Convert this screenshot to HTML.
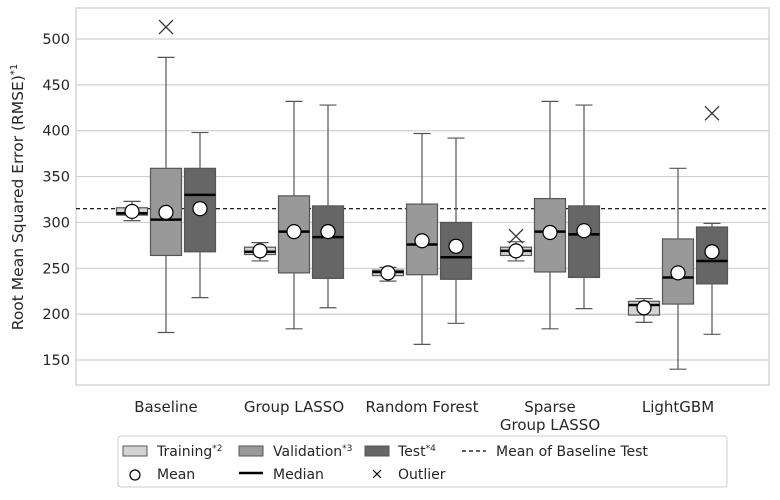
<!DOCTYPE html>
<html><head><meta charset="utf-8"><style>
body{margin:0;background:#fff;font-family:"DejaVu Sans","Liberation Sans",sans-serif;}
svg text{font-family:"DejaVu Sans","Liberation Sans",sans-serif;fill:#262626;}
</style></head><body>
<svg width="780" height="496" viewBox="0 0 780 496" xmlns="http://www.w3.org/2000/svg">
<g id="grid"></g>
<rect x="76" y="8" width="693" height="377" fill="none" stroke="#ccc" stroke-width="1.2"/>
<g id="yt"></g>
<text transform="translate(23,197) rotate(-90)" text-anchor="middle" font-size="15.5">Root Mean Squared Error (RMSE)<tspan dy="-6" font-size="10">*1</tspan></text>
<line id="meanline" x1="76" x2="769" stroke="#000" stroke-width="1.2" stroke-dasharray="4,3"/>
<g id="boxes"></g>
<g id="xl"></g>
<g>
<rect x="118" y="436" width="609" height="51" fill="#fff" stroke="#ccc" rx="3"/>
<g><rect x="123" y="446" width="24" height="10" fill="#d3d3d3" stroke="#555"/><text x="157" y="456" font-size="14">Training<tspan dy="-5" font-size="9">*2</tspan></text></g>
<g><rect x="239" y="446" width="24" height="10" fill="#999" stroke="#555"/><text x="273" y="456" font-size="14">Validation<tspan dy="-5" font-size="9">*3</tspan></text></g>
<g><rect x="365" y="446" width="24" height="10" fill="#666" stroke="#555"/><text x="398" y="456" font-size="14">Test<tspan dy="-5" font-size="9">*4</tspan></text></g>
<g><line x1="462" x2="486" y1="451" y2="451" stroke="#000" stroke-width="1.2" stroke-dasharray="4,3"/><text x="496" y="456" font-size="14">Mean of Baseline Test</text></g>
<g><circle cx="135" cy="475" r="5" fill="#fff" stroke="#000" stroke-width="1.2"/><text x="157" y="479" font-size="14">Mean</text></g>
<g><line x1="239" x2="263" y1="473" y2="473" stroke="#000" stroke-width="2.5"/><text x="273" y="479" font-size="14">Median</text></g>
<g><path d="M373 470l8 8M381 470l-8 8" stroke="#000" stroke-width="1.2"/><text x="398" y="479" font-size="14">Outlier</text></g>
</g>
</svg>
<script>
const categories=["Baseline","Group LASSO","Random Forest","Sparse\nGroup LASSO","LightGBM"];
const yTicks=[150,200,250,300,350,400,450,500];
const baselineTestMean=315;
// per category: [whiskerLow, q1, median, q3, whiskerHigh, mean]
const training=[[302,308,310,316,323,312],[258,265,268,273,278,269],[236,242,246,248,251,245],[258,264,269,273,279,269],[191,199,210,214,217,207]];
const validation=[[180,264,303,359,480,311],[184,245,290,329,432,290],[167,243,276,320,397,280],[184,246,290,326,432,289],[140,211,240,282,359,245]];
const test=[[218,268,330,359,398,315],[207,239,284,318,428,290],[190,238,262,300,392,274],[206,240,287,318,428,291],[178,233,258,295,299,268]];
// outliers: [categoryIndex, seriesIndex(0 train,1 val,2 test), value]
const outliers=[[0,1,513],[3,0,285],[4,2,419]];

const NS="http://www.w3.org/2000/svg";
const y=v=>360-(v-150)*0.9171;
const xc=i=>166+i*128;
const off=[-34,0,34];
const fills=["#d3d3d3","#999","#666"];
function mk(tag,attrs,parent){const e=document.createElementNS(NS,tag);for(const k in attrs)e.setAttribute(k,attrs[k]);parent.appendChild(e);return e;}
const grid=document.getElementById("grid"),yt=document.getElementById("yt");
yTicks.forEach(t=>{
  const l=mk("line",{x1:76,x2:769,y1:y(t),y2:y(t),stroke:"#d0d0d0","stroke-width":1.2},grid);
  
  
  const tx=mk("text",{x:70,y:y(t)+5,"text-anchor":"end","font-size":14.5},yt);
  tx.textContent=t;
  
  
});
const ml=document.getElementById("meanline");ml.setAttribute("y1",y(baselineTestMean));ml.setAttribute("y2",y(baselineTestMean));
const boxes=document.getElementById("boxes");
[training,validation,test].forEach((series,s)=>{
  series.forEach((d,i)=>{
    const cx=xc(i)+off[s],w=31;
    const g=mk("g",{},boxes);
    
    
    mk("line",{x1:cx,x2:cx,y1:y(d[0]),y2:y(d[4]),stroke:"#555","stroke-width":1.2},g);
    mk("line",{x1:cx-8.5,x2:cx+8.5,y1:y(d[0]),y2:y(d[0]),stroke:"#555","stroke-width":1.2},g);
    mk("line",{x1:cx-8.5,x2:cx+8.5,y1:y(d[4]),y2:y(d[4]),stroke:"#555","stroke-width":1.2},g);
    mk("rect",{x:cx-w/2,y:y(d[3]),width:w,height:y(d[1])-y(d[3]),fill:fills[s],stroke:"#555","stroke-width":1.2},g);
    mk("line",{x1:cx-w/2,x2:cx+w/2,y1:y(d[2]),y2:y(d[2]),stroke:"#000","stroke-width":2.5},g);
    mk("circle",{cx:cx,cy:y(d[5]),r:7,fill:"#fff",stroke:"#000","stroke-width":1.2},g);
  });
});
outliers.forEach(o=>{
  const cx=xc(o[0])+off[o[1]],cy=y(o[2]);
  const p=mk("path",{d:`M${cx-7} ${cy-7}L${cx+7} ${cy+7}M${cx+7} ${cy-7}L${cx-7} ${cy+7}`,stroke:"#333","stroke-width":1.3,fill:"none"},boxes);
  
  
});
const xl=document.getElementById("xl");
categories.forEach((c,i)=>{
  c.split("\n").forEach((ln,j)=>{
    const t=mk("text",{x:xc(i),y:412+j*18,"text-anchor":"middle","font-size":15},xl);
    t.textContent=ln;
    
    
  });
});
</script>
</body></html>
